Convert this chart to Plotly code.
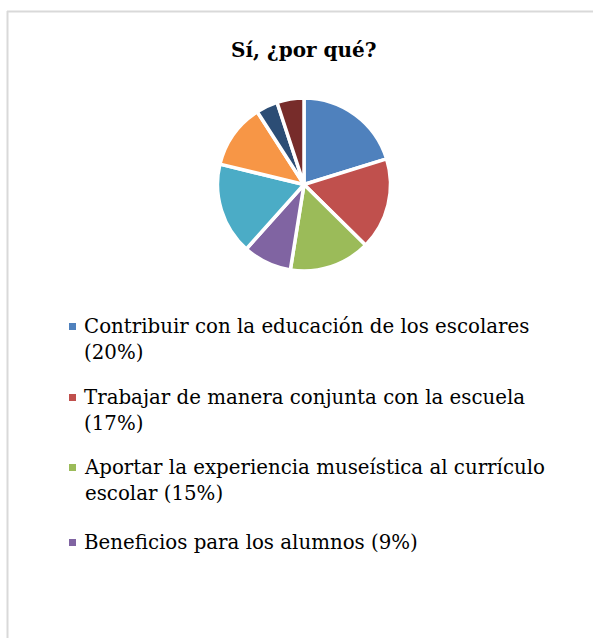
import plotly.graph_objects as go

W, H = 593, 638

# slice data (clockwise from 12 o'clock)
labels = [
    "Contribuir con la educación de los escolares",
    "Trabajar de manera conjunta con la escuela",
    "Aportar la experiencia museística al currículo escolar",
    "Beneficios para los alumnos",
    "Otro motivo 1",
    "Otro motivo 2",
    "Otro motivo 3",
    "Otro motivo 4",
]
values = [20, 17, 15, 9, 17, 12, 4, 5]
colors = ["#4F81BD", "#C0504D", "#9BBB59", "#8064A2",
          "#4BACC6", "#F79646", "#2C4D75", "#772C2A"]

# legend text as shown (only the first four entries fit)
legend_text = [
    "Contribuir con la educación de los escolares<br>(20%)",
    "Trabajar de manera conjunta con la escuela<br>(17%)",
    "Aportar la experiencia museística al currículo<br>escolar (15%)",
    "Beneficios para los alumnos (9%)",
]
legend_top = [313, 384, 454, 529]

FONT = "DejaVu Serif"


def px(x):
    return x / W


def py(y):
    return 1 - y / H


fig = go.Figure(go.Pie(
    labels=labels, values=values, sort=False, direction="clockwise",
    rotation=0, textinfo="none", hoverinfo="label+percent",
    marker=dict(colors=colors, line=dict(color="white", width=3.5)),
    domain=dict(x=[px(217), px(391)], y=[py(271), py(98)]),
    showlegend=False,
))

annotations = [dict(
    text="<b>Sí, ¿por qué?</b>", x=px(303), y=py(50), xref="paper", yref="paper",
    showarrow=False, xanchor="center", yanchor="middle",
    font=dict(family=FONT, size=20, color="#000000"),
)]
shapes = [
    dict(type="line", xref="paper", yref="paper", x0=px(7), x1=1, y0=py(11.5), y1=py(11.5),
         line=dict(color="#D9D9D9", width=2)),
    dict(type="line", xref="paper", yref="paper", x0=px(7.5), x1=px(7.5), y0=py(11), y1=0,
         line=dict(color="#D9D9D9", width=2)),
]
for txt, top, col in zip(legend_text, legend_top, colors):
    annotations.append(dict(
        text=txt, x=px(82), y=py(top), xref="paper", yref="paper",
        showarrow=False, xanchor="left", yanchor="top", align="left",
        font=dict(family=FONT, size=19.8, color="#000000"),
    ))
    shapes.append(dict(type="rect", xref="paper", yref="paper",
                       x0=px(69), x1=px(76), y0=py(top + 10), y1=py(top + 17),
                       fillcolor=col, line=dict(width=0)))

fig.update_layout(
    width=W, height=H,
    margin=dict(l=0, r=0, t=0, b=0),
    paper_bgcolor="white", plot_bgcolor="white",
    annotations=annotations, shapes=shapes,
)

fig.write_html("out.html", config={"displayModeBar": False},
               post_script="document.body.style.margin='0';document.body.style.overflow='hidden';")
